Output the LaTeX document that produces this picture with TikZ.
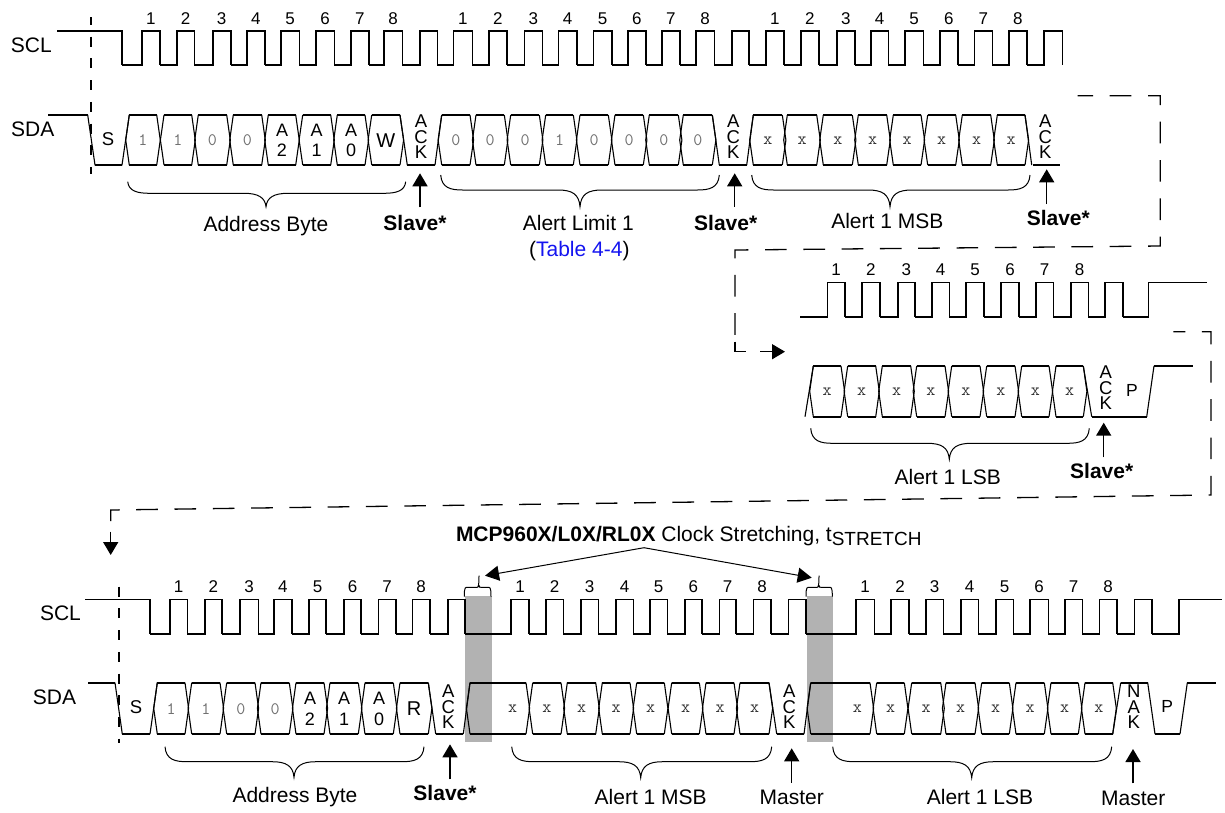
\documentclass[tikz,border=0pt]{standalone}
\usepackage{fontspec}
\setmainfont{Liberation Sans}
\usetikzlibrary{arrows.meta}
\newcommand{\fs}[1]{\fontsize{#1}{#1}\selectfont}
\definecolor{bitgray}{HTML}{707070}
\definecolor{xgray}{HTML}{333333}
\definecolor{stretchgray}{HTML}{B2B2B2}
\definecolor{linkblue}{HTML}{1414F0}
\tikzset{
  x=1pt,y=-1pt,
  wave/.style={line width=1.6pt,line cap=square,line join=miter},
  flat/.style={line width=1.7pt,line cap=butt},
  slant/.style={line width=1.1pt,line join=round},
  lbl/.style={inner sep=0pt,outer sep=0pt,font=\fs{21}},
  num/.style={inner sep=0pt,font=\fs{17}},
  bitdigit/.style={inner sep=0pt,text=bitgray,font=\fs{17.5}\ttfamily},
  bitx/.style={inner sep=0pt,text=xgray,font=\fs{17.5}\ttfamily},
  bitltr/.style={inner sep=0pt,align=center,font=\fontsize{18}{20.5}\selectfont},
  acktext/.style={inner sep=0pt,align=center,font=\fontsize{18.5}{15.6}\selectfont},
  strong/.style={inner sep=0pt,font=\fs{21}\bfseries},
  uparrow/.style={line width=1.5pt,-{Triangle[width=15pt,length=13pt]}},
  thinarrow/.style={line width=1pt,-{Triangle[width=15pt,length=14pt]}},
  bracket/.style={line width=1pt},
  guide/.style={line width=1.7pt,dash pattern=on 10pt off 11.7pt},
  longdash/.style={line width=1.3pt,dash pattern=on 21.7pt off 16.6pt},
  plainarrow/.style={line width=1.5pt,-{Triangle[width=15pt,length=13pt]}},
}
% clock pulses: name, high y, low y, first x, rise/fall/number list
\newcommand{\clockrow}[5]{%
  \foreach \r/\f/\n [remember=\f as \p (initially #4),count=\i] in {#5}{%
    \draw[wave] (\p,#3) -- (\r,#3) -- (\r,#2) -- (\f,#2) -- (\f,#3);
    \ifnum\n>0 \node[num] (#1p\i) at ({(\r+\f)/2},#2-12.5) {\n};\fi
  }%
}
% data cells: name, top y, bottom y, list x1/x2/style/text
\newcommand{\cellrow}[4]{%
  \foreach \a/\b/\s/\t [count=\i] in {#4}{%
    \draw[slant] (\a,#2) -- (\a-3.6,{(#2+#3)/2}) -- (\a,#3)
                 (\b,#2) -- (\b+3.6,{(#2+#3)/2}) -- (\b,#3);
    \draw[flat] (\a,#2) -- (\b,#2) (\a,#3) -- (\b,#3);
    \node[\s] (#1c\i) at ({(\a+\b)/2},{(#2+#3)/2+0.5}) {\t};
  }%
}
% curly bracket: x0, x1, tip x, open-end y, bar y, tip y
\newcommand{\curly}[6]{%
  \draw[bracket] (#1,#4) .. controls (#1+1,#5-2) and (#1+10,#5) .. (#1+22,#5)
    -- (#3-22,#5) .. controls (#3-8,#5) and (#3-1,#5+4) .. (#3,#6)
    .. controls (#3+1,#5+4) and (#3+8,#5) .. (#3+22,#5)
    -- (#2-22,#5) .. controls (#2-10,#5) and (#2-1,#5-2) .. (#2,#4);
}
\newcommand{\ticksbrace}[5]{%
  \draw[bracket] (#1,#4) .. controls (#1,#5-1) and (#1+1,#5) .. (#1+4,#5)
    -- (#3-2,#5) .. controls (#3-0.5,#5) and (#3,#5-2) .. (#3,575.7)
    (#3,#5-2) .. controls (#3,#5) and (#3+0.5,#5) .. (#3+2,#5)
    -- (#2-4,#5) .. controls (#2-1,#5) and (#2,#5-1) .. (#2,#4);
}
\newcommand{\ackarrow}[5]{%
  \coordinate (#1tip) at (#2,#3);
  \coordinate (#1tail) at (#2,#4);
  \draw[uparrow] (#1tail) -- (#1tip);
}
\begin{document}
\begin{tikzpicture}
\useasboundingbox (0,0) rectangle (1225,812);
\fill[white] (0,0) rectangle (1225,812);

% grey clock stretching bars
\fill[stretchgray] (465,596) rectangle (491.7,741.7);
\fill[stretchgray] (807,596) rectangle (832.7,741.7);

% dashed guides
\coordinate (g1a) at (90.7,17); \coordinate (g1b) at (90.7,174);
\draw[guide,dash phase=2pt] (g1a) -- (g1b);
\coordinate (g2a) at (119,586.7); \coordinate (g2b) at (119,742.7);
\draw[guide] (g2a) -- (g2b);

\coordinate (d1s) at (1077.7,95.7);
\coordinate (d1c1) at (1160.3,95.7);
\coordinate (d1c2) at (1160.3,246);
\coordinate (d1c3) at (735,250);
\coordinate (d1c4) at (735,351.7);
\coordinate (d1e) at (746,351.7);
\draw[longdash,dash phase=6.3pt] (d1s) -- (d1c1) -- (d1c2) -- (d1c3) -- (d1c4);
\draw[longdash,dash pattern=on 30pt off 2pt] (735,341.7) -- (d1c4) -- (d1e);
\coordinate (a1s) at (760,351.7); \coordinate (a1t) at (785,351.7);
\draw[plainarrow] (a1s) -- (a1t);

\coordinate (d2s) at (1173.3,331.7);
\coordinate (d2c1) at (1211,331.7);
\coordinate (d2c2) at (1211,495);
\coordinate (d2c3) at (110.7,510);
\coordinate (d2e) at (110.7,521);
\draw[longdash,dash phase=9.7pt] (d2s) -- (d2c1) -- (d2c2) -- (d2c3) -- (d2e);
\coordinate (a2s) at (110.7,531.7); \coordinate (a2t) at (110.7,555);
\draw[plainarrow] (a2s) -- (a2t);

%%% ROW 1
\node[lbl] (scl1) at (31.3,45) {SCL};
\node[lbl] (sda1) at (32.7,129.3) {SDA};
\draw[wave] (57,31) -- (122,31) -- (122,65);
\clockrow{a}{31}{65}{122}{141.7/160/1,176.7/194.3/2,212.7/230.7/3,246.7/265/4,281/299.3/5,315.7/334.3/6,350.7/369/7,384/402.3/8,420/437.3/0,
453.3/472.3/1,489/506.7/2,524.3/542.3/3,558.3/576.7/4,593.3/611.7/5,627.7/646/6,661.7/680/7,696/714.3/8,731.7/749/0,
765.7/784/1,800.7/819/2,836.7/855/3,870.7/888.3/4,905/923.3/5,940/957.7/6,974.3/992.3/7,1009/1026.7/8,1044/1062.3/0}
\cellrow{a}{115}{165}{129.3/156.7/bitdigit/1,164/191.7/bitdigit/1,198.3/226.7/bitdigit/0,233.3/261.7/bitdigit/0,268.3/295.7/bitltr/A\\2,302.7/330.7/bitltr/A\\1,337.3/365/bitltr/A\\0,371.7/400/bitltr/{\fs{20}W},
441.7/470/bitdigit/0,476/504.3/bitdigit/0,510.7/539.3/bitdigit/0,545.7/573.3/bitdigit/1,580/608.3/bitdigit/0,615/643.3/bitdigit/0,649.3/678.3/bitdigit/0,683.3/712.3/bitdigit/0,
753.3/782.3/bitx/x,787.3/816.7/bitx/x,823.3/852.3/bitx/x,858.3/886.7/bitx/x,893.3/921/bitx/x,927.7/955.7/bitx/x,962.3/990.7/bitx/x,997.3/1025/bitx/x}
\draw[flat] (48,115) -- (87.7,115);
\draw[slant] (87.7,115) -- (95,165) -- (122,165) -- (129.3,115);
\draw[flat] (95,165) -- (122,165);
\draw[slant] (400,115) -- (407.3,165);
\draw[slant] (435,165) -- (441.7,115);
\draw[flat] (407.3,165) -- (435,165);
\draw[slant] (712.3,115) -- (719.3,165);
\draw[slant] (746.7,165) -- (753.3,115);
\draw[flat] (719.3,165) -- (746.7,165);
\draw[slant] (1025,115) -- (1031.7,165);
\draw[flat] (1033.3,165) -- (1060,165);
\node[inner sep=0pt,font=\fs{18.5}] (s1) at (108,139) {S};
\node[acktext] (ack1) at (421,137) {A\\C\\K};
\node[acktext] (ack2) at (733.3,137) {A\\C\\K};
\node[acktext] (ack3) at (1045.3,137) {A\\C\\K};
\curly{127.7}{405.7}{266}{181.7}{193.3}{206.7}
\curly{440.7}{719.3}{580}{175}{190}{206.7}
\curly{751.7}{1030}{890}{175}{190}{206.7}
\ackarrow{u1}{420}{173.3}{207.3}{}
\ackarrow{u2}{734.7}{173.3}{206.7}{}
\ackarrow{u3}{1046.7}{169.3}{204}{}
\node[strong] (sl1) at (415,222.7) {Slave*};
\node[strong] (sl2) at (725.7,222.7) {Slave*};
\node[strong] (sl3) at (1058.3,218.3) {Slave*};
\node[lbl] (t1) at (266,226) {Address Byte};
\node[lbl] (t2) at (578.3,223.3) {Alert Limit 1};
\node[lbl] (t3) at (579.3,250.7) {(\textcolor{linkblue}{Table 4-4})};
\node[lbl] (t4) at (887.3,220.7) {Alert 1 MSB};

%%% ROW 2
\clockrow{b}{282.3}{317}{800}{827.3/845/1,861.7/880/2,897.7/915/3,931.7/949.3/4,966/984/5,1001/1019/6,1036/1053.3/7,1070.7/1088.3/8,1105/1122.7/0}
\draw[wave] (1122.7,317) -- (1148.3,317) -- (1148.3,282.3) -- (1206.7,282.3);
\cellrow{b}{366}{416.7}{813.3/841/bitx/x,847.7/875.7/bitx/x,882.3/910.7/bitx/x,916.7/945/bitx/x,951.7/980/bitx/x,986.7/1015/bitx/x,1021.7/1049/bitx/x,1056/1083.3/bitx/x}
\draw[slant] (805,416.7) -- (813.3,366);
\draw[slant] (1083.3,366) -- (1091.7,416.7);
\draw[flat] (1091.7,416.7) -- (1146.7,416.7);
\draw[slant] (1146.7,416.7) -- (1154,366);
\draw[flat] (1154,366) -- (1193.3,366);
\node[acktext] (ack4) at (1105.7,388) {A\\C\\K};
\node[inner sep=0pt,font=\fs{17.5}] (p1) at (1132,390) {P};
\curly{810.7}{1089.3}{949.3}{428.3}{443.3}{459.3}
\ackarrow{u4}{1103.7}{422.7}{457.3}{}
\node[strong] (sl4) at (1101.7,470.7) {Slave*};
\node[lbl] (t5) at (947.7,476.7) {Alert 1 LSB};

%%% ROW 3
\node[inner sep=0pt,outer sep=0pt,anchor=base west,font=\fs{21}] (mcp) at (456,541) {\textbf{MCP960X/L0X/RL0X} Clock Stretching, t\raisebox{-4.5pt}{\fs{19}STRETCH}};
\coordinate (mcpa) at (644,547.7);
\coordinate (mcpl) at (485,575.7);
\coordinate (mcpr) at (811.7,577.7);
\draw[thinarrow] (mcpa) -- (mcpl);
\draw[thinarrow] (mcpa) -- (mcpr);
\ticksbrace{464.3}{491}{479}{596.7}{587.3}
\ticksbrace{806}{832.3}{819}{596.7}{587.3}

\node[lbl] (scl3) at (60.5,613.5) {SCL};
\node[lbl] (sda3) at (54.5,697) {SDA};
\draw[wave] (85,599.3) -- (150,599.3) -- (150,633.7);
\clockrow{c}{599.3}{633.7}{150}{170/187.3/1,205/221.7/2,240/258.3/3,274/291.7/4,309/326/5,344/361/6,378.3/396/7,412.3/430/8,447.7/465/0,
511/529/1,545.7/563.3/2,580.7/598.3/3,616/633.3/4,650/667.3/5,685/701.7/6,719.3/736/7,753.3/770.7/8,788.3/806/0,
856/874.3/1,891/909/2,926/943.3/3,961/978.3/4,996/1013.3/5,1030/1048.3/6,1065/1082.3/7,1099.3/1116.7/8,1134.3/1151.7/0}
\draw[wave] (1151.7,633.7) -- (1179,633.7) -- (1179,599.3) -- (1221.7,599.3);
\cellrow{c}{682.7}{734}{157.3/185/bitdigit/1,191.7/220/bitdigit/1,226.7/255/bitdigit/0,261/289.3/bitdigit/0,296/324/bitltr/A\\2,330/358.3/bitltr/A\\1,365/393.3/bitltr/A\\0,400/428.3/bitltr/{\fs{20}R},
532.7/561/bitx/x,567.3/595.7/bitx/x,602.3/630/bitx/x,636.7/664.3/bitx/x,671.7/699.3/bitx/x,706/734/bitx/x,740/769/bitx/x,
876.7/904.3/bitx/x,911.7/940.7/bitx/x,946/975/bitx/x,981.7/1009.3/bitx/x,1016/1044.3/bitx/x,1051/1078.3/bitx/x,1085/1112.7/bitx/x}
\draw[slant] (470,682.7) -- (466.4,708.3) -- (470,734) (526,682.7) -- (529.6,708.3) -- (526,734);
\draw[flat] (470,682.7) -- (526,682.7) (470,734) -- (526,734);
\node[bitx] (xm) at (512.7,708.8) {x};
\draw[slant] (810.7,682.7) -- (807.1,708.3) -- (810.7,734) (870,682.7) -- (873.6,708.3) -- (870,734);
\draw[flat] (810.7,682.7) -- (870,682.7) (810.7,734) -- (870,734);
\node[bitx] (xl) at (857.3,708.8) {x};
\draw[flat] (88.3,682.7) -- (115,682.7);
\draw[slant] (115,682.7) -- (122.3,734);
\draw[flat] (122.3,734) -- (150,734);
\draw[slant] (150,734) -- (157.3,682.7);
\draw[slant] (428.3,682.7) -- (435.7,734);
\draw[flat] (435.7,734) -- (463.3,734);
\draw[slant] (463.3,734) -- (470,682.7);
\draw[slant] (769,682.7) -- (776.7,734);
\draw[flat] (776.7,734) -- (804,734);
\draw[slant] (804,734) -- (810.7,682.7);
\draw[slant] (1112.7,734) -- (1120.7,682.7);
\draw[flat] (1120.7,682.7) -- (1147.7,682.7);
\draw[slant] (1147.7,682.7) -- (1155,734);
\draw[flat] (1155,734) -- (1180,734);
\draw[slant] (1180,734) -- (1187.3,682.7);
\draw[flat] (1187.3,682.7) -- (1215.7,682.7);
\node[inner sep=0pt,font=\fs{18.5}] (s3) at (136,706.7) {S};
\node[acktext] (ack5) at (448.3,707) {A\\C\\K};
\node[acktext] (ack6) at (789.3,707) {A\\C\\K};
\node[acktext] (nak) at (1133.7,707) {N\\A\\K};
\node[inner sep=0pt,font=\fs{17.5}] (p3) at (1167.3,706.7) {P};
\curly{165}{424}{294}{746.7}{761.7}{777.3}
\curly{511.7}{771.7}{640.7}{746.7}{761.7}{777.7}
\curly{832.7}{1111.7}{971.7}{746.7}{761.7}{777.7}
\ackarrow{u5}{450}{744.3}{779.3}{}
\ackarrow{u6}{791.7}{748.3}{782.7}{}
\ackarrow{u7}{1133}{749}{783.3}{}
\node[strong] (sl5) at (445,792.7) {Slave*};
\node[lbl] (m1) at (791.7,797.3) {Master};
\node[lbl] (m2) at (1133.3,798.3) {Master};
\node[lbl] (t6) at (295,797.3) {Address Byte};
\node[lbl] (t7) at (650.7,797.3) {Alert 1 MSB};
\node[lbl] (t8) at (980,797.3) {Alert 1 LSB};
\end{tikzpicture}
\end{document}
